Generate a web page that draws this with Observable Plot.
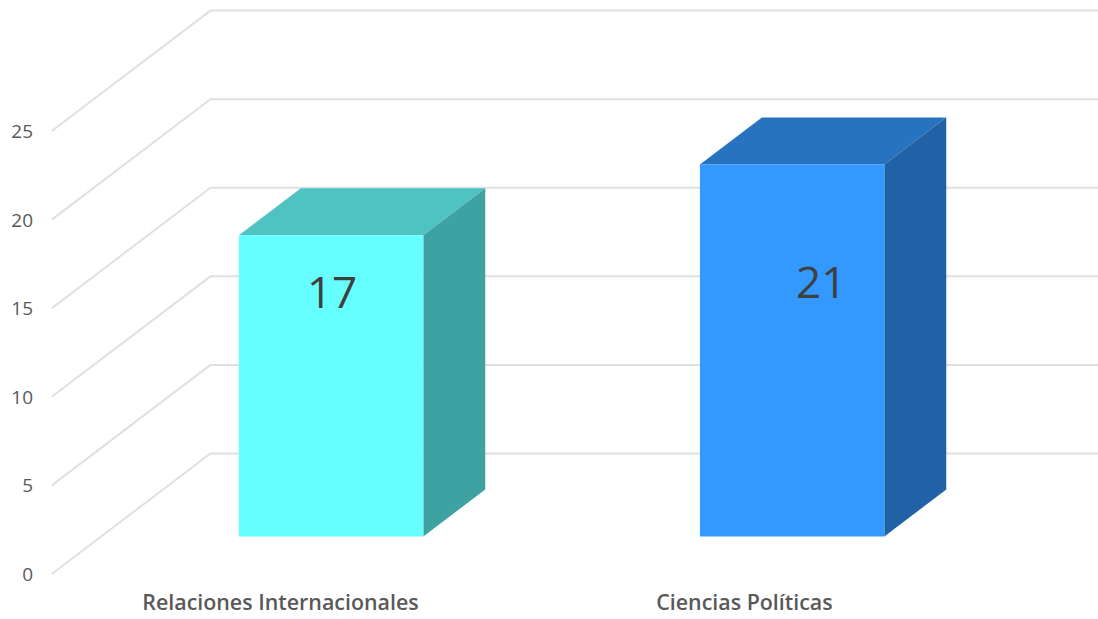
<!DOCTYPE html>
<html lang="es">
<head>
<meta charset="utf-8">
<style>html,body{margin:0;padding:0;background:#fff;overflow:hidden}svg{display:block}</style>
<script src="https://cdn.jsdelivr.net/npm/d3@7"></script>
<script src="https://cdn.jsdelivr.net/npm/@observablehq/plot@0.6"></script>
</head>
<body>
<div id="chart"></div>
<script>
const categories = ["Relaciones Internacionales", "Ciencias Políticas"];
const values = [17, 21];
const yTicks = [0, 5, 10, 15, 20, 25];
const frontColors = ["#66FFFF", "#3399FF"];
const topColors = ["#4FC2C2", "#2773C0"];
const sideColors = ["#3FA2A2", "#2062A5"];

// Oblique projection of the floor depth, in data units of the two scales
const depthX = 0.3427, depthY = 6.77;
const barNear = 0.308, barFar = 0.70, barWidth = 0.4;
const project = (x, v, d) => ({x: x + d * depthX, y: v + d * depthY});
const xStart = -0.527, xEnd = 1.7701, wallStart = -0.4989;

const gridMarks = yTicks.map((v) =>
  Plot.line(
    [project(wallStart, v, 0), project(wallStart, v, 1), {x: xEnd, y: v + depthY}],
    {x: "x", y: "y", stroke: "#E0E0E0", strokeWidth: 2}
  )
);

const barMarks = values.flatMap((v, i) => {
  const left = i - barWidth / 2, right = i + barWidth / 2;
  const top = [project(left, v, barNear), project(right, v, barNear), project(right, v, barFar), project(left, v, barFar)];
  const side = [project(right, 0, barNear), project(right, v, barNear), project(right, v, barFar), project(right, 0, barFar)];
  const front = [project(left, 0, barNear), project(right, 0, barNear), project(right, v, barNear), project(left, v, barNear)];
  return [
    Plot.line(top, {x: "x", y: "y", fill: topColors[i], stroke: "none"}),
    Plot.line(side, {x: "x", y: "y", fill: sideColors[i], stroke: "none"}),
    Plot.line(front, {x: "x", y: "y", fill: frontColors[i], stroke: "none"})
  ];
});

const valueOffsets = [{dx: 1, dy: 59}, {dx: 29, dy: 119}];
const valueMarks = values.map((v, i) =>
  Plot.text([project(i, v, barNear)], {
    x: "x", y: "y", text: () => String(v),
    dx: valueOffsets[i].dx, dy: valueOffsets[i].dy,
    fontSize: 44, fill: "#404040", textAnchor: "middle", lineAnchor: "middle"
  })
);

const categoryOffsets = [-2, 1];
const categoryMarks = categories.map((c, i) =>
  Plot.text([c], {
    x: () => i, y: () => 0, text: (d) => d, dx: categoryOffsets[i], dy: 30,
    fontSize: 21.4, fontWeight: 600, fill: "#595959", textAnchor: "middle", lineAnchor: "middle"
  })
);

const chart = Plot.plot({
  width: 1098,
  height: 619,
  marginLeft: 39,
  marginRight: 0,
  marginTop: 0,
  marginBottom: 0,
  style: {fontFamily: "'Open Sans', sans-serif", background: "#fff"},
  x: {domain: [xStart, xEnd], axis: null},
  y: {domain: [-2.6, 32.34], axis: null},
  marks: [
    Plot.axisY(yTicks, {
      anchor: "left", tickSize: 0, tickPadding: 6.5, label: null,
      fontSize: 19, color: "#595959", dy: 1.5
    }),
    ...gridMarks,
    ...barMarks,
    ...valueMarks,
    ...categoryMarks
  ]
});
document.getElementById("chart").appendChild(chart);
</script>
</body>
</html>
